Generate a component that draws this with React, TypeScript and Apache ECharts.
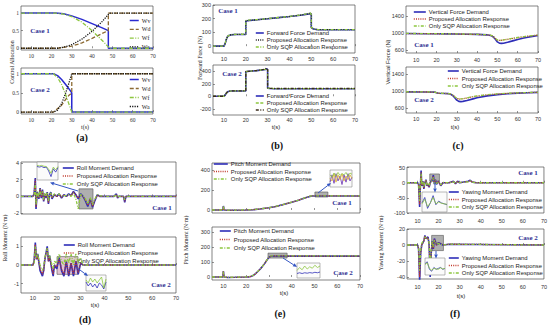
import React, { useEffect, useRef } from "react";
import * as echarts from "echarts";

// ---------------- DATA ----------------
const X_TICKS = [10, 20, 30, 40, 50, 60, 70];

// (a) control allocation weights
const A_LEGEND = ["Wv", "Wd", "Wf", "Wa"];
const A1_T_WV = [5, 22, 26, 30, 35, 40, 45, 48, 48, 70];
const A1_WV = [1, 1, 0.98, 0.92, 0.82, 0.7, 0.58, 0.5, 0, 0];
const A1_T_WD = [5, 23, 30, 35, 40, 45, 48, 48, 70];
const A1_WD = [0, 0, 0.06, 0.15, 0.28, 0.42, 0.5, 1, 1];
const A1_T_WF = [5, 22, 26, 30, 35, 40, 45, 48, 49, 70];
const A1_WF = [1, 1, 0.97, 0.9, 0.74, 0.5, 0.22, 0.04, 0, 0];
const A1_T_WA = [5, 23, 26, 30, 35, 40, 45, 48, 49, 70];
const A1_WA = [0, 0, 0.03, 0.1, 0.26, 0.48, 0.76, 0.96, 1, 1];

const A2_T_WV = [5, 21, 23, 25, 27, 29, 30, 30, 70];
const A2_WV = [1, 1, 0.95, 0.85, 0.72, 0.58, 0.5, 0, 0];
const A2_T_WD = [5, 21, 25, 27, 28.5, 30, 30, 70];
const A2_WD = [0, 0, 0.18, 0.33, 0.43, 0.5, 1, 1];
const A2_T_WF = [5, 21, 23, 25, 27, 29, 30, 70];
const A2_WF = [1, 1, 0.9, 0.72, 0.45, 0.15, 0, 0];
const A2_T_WA = [5, 21, 23, 25, 27, 29, 30, 70];
const A2_WA = [0, 0, 0.05, 0.22, 0.5, 0.82, 1, 1];

// (b) forward force
const B1_T = [5, 10, 10.5, 11, 11.5, 12, 13, 15, 20, 20, 20.5, 25, 30, 35, 40, 45, 49, 49.5, 50, 50, 51, 53, 70];
const B1_DEMAND = [0, 0, 15, 45, 65, 75, 82, 85, 85, 180, 185, 192, 200, 208, 216, 225, 235, 240, 232, 135, 125, 120, 120];
const B1_PROPOSED = [0, 0, 14, 44, 64, 75, 82, 85, 86, 182, 186, 192, 200, 208, 216, 226, 236, 242, 230, 134, 124, 120, 120];
const B1_SQP = [0, 0, 16, 46, 66, 76, 82, 86, 87, 186, 190, 193, 201, 209, 217, 227, 238, 246, 228, 137, 126, 121, 121];
const B2_T = [5, 10, 10.5, 11, 11.5, 12, 13, 15, 20, 20, 20.5, 25, 29, 29.5, 30, 30, 31, 33, 70];
const B2_DEMAND = [0, 0, 15, 45, 65, 76, 83, 85, 85, 390, 395, 410, 428, 440, 430, 130, 124, 120, 120];
const B2_PROPOSED = [0, 0, 14, 44, 64, 75, 83, 86, 86, 392, 396, 411, 430, 445, 428, 132, 126, 121, 121];
const B2_SQP = [0, 0, 16, 46, 66, 77, 84, 86, 87, 396, 398, 412, 432, 452, 425, 135, 128, 124, 124];

// (c) vertical force
const C1_T = [5, 15, 20, 25, 30, 35, 40, 45, 47, 48, 49, 50, 51, 52, 53, 55, 58, 60, 63, 65, 68, 70];
const C1_DEMAND = [985, 982, 980, 978, 975, 970, 965, 955, 935, 905, 850, 790, 760, 755, 760, 780, 820, 845, 880, 900, 925, 940];
const C1_PROPOSED = [985, 982, 980, 978, 975, 970, 965, 955, 940, 915, 870, 830, 825, 828, 835, 850, 875, 890, 910, 922, 938, 948];
const C1_SQP = [988, 984, 982, 980, 977, 972, 967, 957, 942, 917, 872, 832, 826, 830, 837, 852, 878, 893, 913, 925, 940, 950];
const C2_T = [5, 15, 19, 20, 21, 24, 26, 27, 28, 29, 30, 31, 32, 33, 35, 38, 40, 45, 50, 55, 60, 65, 70];
const C2_DEMAND = [980, 978, 975, 960, 948, 943, 938, 925, 895, 840, 785, 755, 750, 755, 775, 815, 840, 885, 915, 935, 950, 960, 968];
const C2_PROPOSED = [980, 978, 975, 960, 948, 943, 938, 928, 905, 865, 825, 810, 812, 818, 835, 865, 880, 910, 930, 945, 955, 963, 970];
const C2_SQP = [983, 980, 977, 962, 950, 945, 940, 930, 908, 868, 828, 812, 814, 820, 838, 868, 883, 913, 933, 947, 957, 965, 972];

// (d) roll moment
const D1_T = [5, 10, 10.5, 11, 11.3, 11.8, 12.5, 13, 13.5, 14, 14.5, 15, 15.5, 16, 16.5, 17, 17.5, 18, 19, 20, 21, 22, 23, 24, 25, 26, 27, 28, 29, 30, 31, 32, 33, 34, 35, 36, 37, 38, 40, 44, 45, 45.5, 46, 48, 48.5, 49, 70];
const D1_DEMAND = [0, 0, 0.3, 2.2, -1.5, 0.5, -0.3, 1.0, -0.2, 0.8, -0.6, 0.3, -0.2, 0.5, -0.9, 0.2, 0.5, -0.3, 0.2, 0, 0.3, -0.2, 0.2, 0, 0.3, 0.1, 0.6, 0.2, -0.3, 0.3, 0, -0.5, -1.2, -0.3, -1.3, -0.5, 0.2, 0, 0, 0, 0.3, -0.2, 0, 0, -0.7, 0, 0];
const D1_PROPOSED = [0, 0, 0.2, 2.0, -1.3, 0.4, -0.2, 0.9, -0.1, 0.7, -0.5, 0.3, -0.1, 0.4, -0.8, 0.2, 0.4, -0.2, 0.2, 0, 0.2, -0.1, 0.2, 0, 0.2, 0.1, 0.5, 0.2, -0.2, 0.2, 0, -0.4, -1.1, -0.3, -1.2, -0.4, 0.1, 0, 0, 0, 0.2, -0.1, 0, 0, -0.6, 0, 0];
const D1_SQP = [0, 0, 0.1, 1.6, -1.0, 0.6, -0.1, 0.8, 0.1, 0.6, -0.4, 0.4, 0.0, 0.5, -0.6, 0.3, 0.4, -0.1, 0.3, 0.1, 0.3, 0.0, 0.1, 0.1, 0.2, 0.0, 0.4, -0.3, -1.5, 0.2, 0.1, -0.3, -0.9, -0.1, -1.0, -0.3, 0.2, 0.1, 0, 0, 0.2, -0.1, 0, 0, -0.4, 0, 0];
const D2_T = [5, 10, 10.5, 11, 11.5, 12, 13, 14, 14.5, 15, 16, 16.5, 17, 18, 18.5, 19, 20, 21, 22, 23, 24, 25, 26, 27, 28, 29, 30, 31, 70];
const D2_DEMAND = [0, 0, 0.2, 1.2, 0.3, 0.6, -0.3, -0.6, -0.3, 0.3, 1.0, 0.2, 0.5, -0.3, -0.6, 0, -0.2, 0.4, -0.3, -0.6, 0.2, -0.6, 0.1, -0.6, 0.2, -0.5, 0.1, 0, 0];
const D2_PROPOSED = [0, 0, 0.2, 1.1, 0.3, 0.5, -0.2, -0.5, -0.3, 0.3, 0.9, 0.2, 0.4, -0.2, -0.5, 0, -0.1, 0.3, -0.2, -0.5, 0.2, -0.5, 0.1, -0.5, 0.2, -0.4, 0.1, 0, 0];
const D2_SQP = [0, 0, 0.1, 1.0, 0.4, 0.6, 0.0, -0.3, -0.1, 0.4, 0.9, 0.4, 0.5, 0.0, -0.2, 0.2, 0.1, 0.6, 0.2, 0.0, 0.6, 0.1, 0.6, 0.0, 0.6, 0.1, 0.4, 0, 0];

// (e) pitch moment
const E1_T = [5, 9.8, 10, 10.3, 12, 15, 20, 23, 26, 30, 33, 36, 40, 43, 46, 48, 49, 52, 55, 70];
const E1_DEMAND = [0, 0, 40, 0, -3, -2, 0, 3, 10, 22, 35, 52, 78, 98, 122, 136, 140, 140, 140, 140];
const E1_PROPOSED = [0, 0, 38, 0, -3, -2, 0, 3, 10, 22, 35, 52, 78, 98, 122, 137, 141, 141, 141, 140];
const E1_SQP = [0, 0, 36, 1, -2, -1, 1, 4, 11, 23, 36, 53, 79, 99, 123, 138, 142, 142, 142, 141];
const E2_T = [5, 9.8, 10, 10.3, 12, 15, 20, 21, 22, 23, 24, 25, 26, 27, 28, 29, 30, 31, 35, 70];
const E2_DEMAND = [0, 0, 40, 0, -3, -2, 0, 1, 4, 10, 20, 35, 50, 68, 88, 110, 132, 140, 140, 140];
const E2_PROPOSED = [0, 0, 38, 0, -3, -2, 0, 1, 4, 10, 20, 35, 50, 68, 88, 110, 133, 141, 141, 140];
const E2_SQP = [0, 0, 36, 1, -2, -1, 1, 2, 5, 11, 21, 36, 51, 69, 89, 111, 134, 142, 142, 141];

// (f) yawing moment
const F1_T = [5, 10, 10.5, 11, 11.3, 11.7, 12, 12.5, 13, 13.5, 14, 14.5, 15, 15.5, 16, 17, 17.5, 18, 18.5, 19, 20, 21, 22, 25, 27, 28, 29, 30, 34, 35, 36, 38, 70];
const F1_DEMAND = [0, 0, -5, -80, -20, 40, -10, 5, -20, 0, 10, -10, -5, -15, 0, 10, 25, -5, 10, -5, 5, -10, 0, 0, 5, -3, 5, 0, 5, 8, 2, 0, 0];
const F1_PROPOSED = [0, 0, -4, -72, -18, 36, -9, 4, -18, 0, 9, -9, -4, -13, 0, 9, 22, -4, 9, -4, 4, -9, 0, 0, 4, -2, 4, 0, 4, 7, 2, 0, 0];
const F1_SQP = [0, 0, -3, -60, -15, 30, -6, 3, -14, 1, 7, -7, -3, -10, 1, 8, 18, -3, 7, -3, 4, -7, 1, 0, 3, -1, 3, 1, 3, 6, 2, 0, 0];
const F2_T = [5, 10, 10.5, 11, 11.5, 12, 13, 13.5, 14, 15, 15.5, 16, 16.5, 17, 17.5, 18, 19, 20, 22, 25, 70];
const F2_DEMAND = [0, 0, -5, -45, -10, 0, 5, 12, 8, 10, 0, -40, -10, 5, -5, 8, 0, 3, 0, 1, 0];
const F2_PROPOSED = [0, 0, -4, -40, -9, 0, 5, 11, 8, 9, 0, -36, -9, 4, -4, 7, 0, 3, 0, 1, 0];
const F2_SQP = [0, 0, -3, -32, -6, 2, 6, 10, 9, 8, 2, -28, -6, 5, -2, 6, 1, 2, 0, 1, 0];

// zoom windows (data coords) and inset traces
const ZOOM_D1 = [[29.3, 0.9], [35.2, -1.5]];
const ZOOM_D2 = [[20.1, 0.45], [28.9, -0.5]];
const ZOOM_E1 = [[50.2, 180], [55.9, 130]];
const ZOOM_E2 = [[29.6, 160], [38, 127]];
const ZOOM_F1 = [[15.8, 29], [20.4, 5]];
const ZOOM_F2 = [[16.7, 12], [22.3, -7]];

const INSET_D1_DEMAND = [0.6, 0.55, 0.6, 0.5, 0.55, 0.2, -0.3, 0.4, 0.1, 0.5];
const INSET_D1_SQP = [0.7, 0.65, 0.7, 0.62, 0.6, 0.35, 0.0, 0.55, 0.3, 0.6];
const INSET_D2_DEMAND = [0.1, -0.3, 0.0, -0.4, -0.1, -0.5, 0.0, -0.2, -0.6, 0.1];
const INSET_D2_SQP = [0.3, 0.0, 0.5, 0.1, 0.4, 0.0, 0.3, 0.6, -0.5, 0.4];
const INSET_E1_DEMAND = [0.2, 0.8, 0.1, 0.9, 0.3, 0.7, 0.0, 0.8, 0.2, 0.9, 0.3, 0.6];
const INSET_E1_PROPOSED = [0.5, 0.3, 0.9, 0.2, 0.8, 0.4, 0.9, 0.3, 0.7, 0.4, 0.8, 0.5];
const INSET_E1_SQP = [0.8, 0.6, 0.95, 0.7, 1.0, 0.75, 0.9, 0.8, 1.0, 0.7, 0.95, 0.85];
const INSET_E2_DEMAND = [0.3, 0.35, 0.3, 0.35, 0.32, 0.36, 0.33, 0.38, 0.35, 0.4];
const INSET_E2_SQP = [0.5, 0.7, 0.55, 0.8, 0.6, 0.75, 0.65, 0.85, 0.7, 0.8];
const INSET_F1_DEMAND = [0.5, 0.8, 0.2, 0.5, 0.9, 0.4, 0.6, 0.5, 0.45, 0.4];
const INSET_F1_SQP = [0.45, 0.7, 0.3, 0.5, 0.8, 0.45, 0.55, 0.48, 0.45, 0.42];
const INSET_F2_DEMAND = [0.8, 0.9, 0.5, 0.4, 0.6, 0.5, 0.55, 0.6, 0.5, 0.55];
const INSET_F2_SQP = [0.75, 0.85, 0.55, 0.45, 0.55, 0.52, 0.5, 0.58, 0.52, 0.55];

// ---------------- STYLE ----------------
const BLUE = "#2e2eb8";
const RED = "#c0392b";
const GREEN = "#8dc63f";
const BROWN = "#8c6a32";
const BLACK = "#111111";
const CASE_COLOR = "#2e3192";
const ARROW = "#3456c4";
const SERIF = '"Liberation Serif", "DejaVu Serif", serif';
const SANS = '"Liberation Sans", Arial, sans-serif';
const DOT = [1, 1.2];
const DASH = [3, 1.5];
const DASHDOT = [3, 1.5, 1, 1.5];

type S = { name: string; t: number[]; v: number[]; color: string; dash: any; w: number };
const zip = (t: number[], v: number[]) => t.map((x, i) => [x, v[i]]);
const tri = (t: number[], d: number[], p: number[], q: number[], names: string[], pc = RED, pd: any = DOT, qc = GREEN, qd: any = DASHDOT): S[] => [
  { name: names[0], t, v: d, color: BLUE, dash: "solid", w: 1.6 },
  { name: names[1], t, v: p, color: pc, dash: pd, w: 1.3 },
  { name: names[2], t, v: q, color: qc, dash: qd, w: 1.3 },
];
const N_B = ["Forward Force Demand", "Proposed Allocation Response", "Only SQP Allocation Response"];
const N_C = ["Vertical Force Demand", "Proposed Allocation Response", "Only SQP Allocation Response"];
const N_D = ["Roll Moment Demand", "Proposed Allocation Response", "Only SQP Allocation Response"];
const N_E = ["Pitch Moment Demand", "Proposed Allocation Response", "Only SQP Allocation Response"];
const N_F = ["Yawing Moment Demand", "Proposed Allocation Response", "Only SQP Allocation Response"];

const aSeries = (tv: number[][]): S[] => [
  { name: A_LEGEND[0], t: tv[0], v: tv[1], color: "#2a2ad0", dash: "solid", w: 1.5 },
  { name: A_LEGEND[1], t: tv[2], v: tv[3], color: BROWN, dash: [4, 2], w: 1.3 },
  { name: A_LEGEND[2], t: tv[4], v: tv[5], color: GREEN, dash: [4, 1.5, 1, 1.5], w: 1.3 },
  { name: A_LEGEND[3], t: tv[6], v: tv[7], color: BLACK, dash: [1.2, 1.2], w: 1.3 },
];

const PANELS: any[] = [
  { box: [21, 6, 132, 44], y: [-0.05, 1.2], yt: [0, 0.5, 1], xl: true, font: SERIF, xm: 3,
    series: aSeries([A1_T_WV, A1_WV, A1_T_WD, A1_WD, A1_T_WF, A1_WF, A1_T_WA, A1_WA]),
    legend: [129, 17, 9, 1.8, SERIF], caseLabel: ["Case 1", 40, 31] },
  { box: [21, 68, 132, 46], y: [-0.05, 1.15], yt: [0, 0.5, 1], xl: true, font: SERIF, xm: 3,
    series: aSeries([A2_T_WV, A2_WV, A2_T_WD, A2_WD, A2_T_WF, A2_WF, A2_T_WA, A2_WA]),
    legend: [129, 76, 9, 2, SERIF], caseLabel: ["Case 2", 40, 90] },
  { box: [213, 5, 142, 48], y: [-50, 300], yt: [0, 100, 200, 300], xl: true, font: SANS, xm: 3,
    series: tri(B1_T, B1_DEMAND, B1_PROPOSED, B1_SQP, N_B, "#222222", DOT),
    legend: [255, 29.5, 8, 0, SANS], caseLabel: ["Case 1", 228, 11] },
  { box: [213, 65, 142, 50], y: [-300, 500], yt: [-200, 0, 200, 400], xl: true, font: SANS, xm: 2,
    series: tri(B2_T, B2_DEMAND, B2_PROPOSED, B2_SQP, N_B, GREEN, DASH, "#3a2a1a", DASHDOT),
    legend: [255, 92.5, 8, 0, SANS], caseLabel: ["Case 2", 232, 74] },
  { box: [406, 6, 132, 47], y: [530, 1630], yt: [600, 1000, 1400], xl: true, font: SANS, xm: 4,
    series: tri(C1_T, C1_DEMAND, C1_PROPOSED, C1_SQP, N_C),
    legend: [413, 8.5, 12, 0, SANS], caseLabel: ["Case 1", 424, 45] },
  { box: [406, 67, 132, 46], y: [480, 1570], yt: [600, 1000, 1400], xl: true, font: SANS, xm: 3,
    series: tri(C2_T, C2_DEMAND, C2_PROPOSED, C2_SQP, N_C),
    legend: [447, 67.5, 11, 0.5, SANS], caseLabel: ["Case 2", 424, 100] },
  { box: [21, 162, 155, 52], y: [-2.1, 4.1], yt: [-2, 0, 2, 4], xl: false, font: SANS, xm: 3,
    series: tri(D1_T, D1_DEMAND, D1_PROPOSED, D1_SQP, N_D), zoom: ZOOM_D1, zoomColor: "rgba(110,110,110,0.55)",
    legend: [62, 164.5, 11, 1, SANS], caseLabel: ["Case 1", 162, 208] },
  { box: [21, 237, 155, 56], y: [-1.5, 1.5], yt: [-1, 0, 1], xl: true, font: SANS, xm: 2,
    series: tri(D2_T, D2_DEMAND, D2_PROPOSED, D2_SQP, N_D), zoom: ZOOM_D2, zoomColor: "rgba(200,150,175,0.55)",
    legend: [63, 241.5, 11, 1, SANS], caseLabel: ["Case 2", 161, 285] },
  { box: [212, 163, 148, 50], y: [-30, 470], yt: [0, 200, 400], xl: false, font: SANS, xm: 3,
    series: tri(E1_T, E1_DEMAND, E1_PROPOSED, E1_SQP, N_E), zoom: ZOOM_E1, zoomColor: "rgba(110,110,110,0.55)",
    legend: [213, 160.5, 14, 0.5, SANS], caseLabel: ["Case 1", 342, 203] },
  { box: [212, 227, 148, 53], y: [-20, 335], yt: [0, 100, 200, 300], xl: true, font: SANS, xm: 3,
    series: tri(E2_T, E2_DEMAND, E2_PROPOSED, E2_SQP, N_E), zoom: ZOOM_E2, zoomColor: "rgba(110,110,110,0.55)",
    legend: [219, 227.5, 11, 1.5, SANS], caseLabel: ["Case 2", 343, 273] },
  { box: [407, 167, 139, 46], y: [-100, 52], yt: [-100, -50, 0, 50], xl: true, font: SANS, xm: 5,
    series: tri(F1_T, F1_DEMAND, F1_PROPOSED, F1_SQP, N_F), zoom: ZOOM_F1, zoomColor: "rgba(110,110,110,0.55)",
    legend: [448, 188.5, 10, 0.5, SANS], caseLabel: ["Case 1", 528, 173] },
  { box: [407, 229, 139, 50], y: [-42.5, 20], yt: [-40, -20, 0, 20], xl: true, font: SANS, xm: 5,
    series: tri(F2_T, F2_DEMAND, F2_PROPOSED, F2_SQP, N_F), zoom: ZOOM_F2, zoomColor: "rgba(110,110,110,0.55)",
    legend: [448, 254.5, 10, 0.5, SANS], caseLabel: ["Case 2", 528, 238] },
];

const INSETS: any[] = [
  { box: [37, 162, 21, 18], y: [-0.6, 1.0], lines: [[INSET_D1_DEMAND, BLUE], [INSET_D1_SQP, GREEN]] },
  { box: [86, 275, 20, 16], y: [-0.8, 0.8], lines: [[INSET_D2_DEMAND, BLUE], [INSET_D2_SQP, GREEN]] },
  { box: [330, 170, 22, 17], y: [-0.2, 1.2], lines: [[INSET_E1_DEMAND, "#6a2fb0"], [INSET_E1_PROPOSED, "#d8b030"], [INSET_E1_SQP, GREEN]] },
  { box: [297, 263, 23, 15], y: [0, 1], lines: [[INSET_E2_DEMAND, BLUE], [INSET_E2_SQP, GREEN]] },
  { box: [422, 192, 25, 20], y: [0, 1.1], lines: [[INSET_F1_DEMAND, BLUE], [INSET_F1_SQP, GREEN]] },
  { box: [425, 258, 20, 17], y: [0.2, 1.1], lines: [[INSET_F2_DEMAND, BLUE], [INSET_F2_SQP, GREEN]] },
];

const ARROWS = [
  [78, 191, 50, 182.5],
  [76, 267, 88, 276],
  [318, 193, 331, 183],
  [283, 258, 297, 267],
  [435, 182, 435, 192.5],
  [436, 251, 436, 258.5],
];

const Y_NAMES: any[] = [
  ["Control Allocation", 12, 62, SERIF],
  ["Forward Force (N)", 200, 58, SERIF],
  ["Vertical Force (N)", 388, 62, SANS],
  ["Roll Moment (N·m)", 5, 238, SERIF],
  ["Pitch Moment (N·m)", 186, 240, SERIF],
  ["Yawing Moment (N·m)", 381, 243, SERIF],
];
const T_LABELS: any[] = [
  [85, 127, SERIF], [276, 127, SANS], [455, 127, SANS],
  [95, 305, SANS], [284, 293, SANS], [461, 296, SANS],
];
const PANEL_LABELS: any[] = [
  ["(a)", 82, 137], ["(b)", 277, 145], ["(c)", 458, 145],
  ["(d)", 85, 319], ["(e)", 280, 313], ["(f)", 455, 313],
];

function text(t: string, x: number, y: number, size: number, family: string, color = "#222", weight = "normal", rotation = 0) {
  return {
    type: "text", x, y, rotation, z: 120,
    style: { text: t, fill: color, fontSize: size, fontFamily: family, fontWeight: weight,
      align: "center", verticalAlign: "middle", textAlign: "center", textVerticalAlign: "middle" },
  };
}

function arrow(x1: number, y1: number, x2: number, y2: number) {
  const dx = x2 - x1, dy = y2 - y1, L = Math.hypot(dx, dy), ux = dx / L, uy = dy / L;
  const hl = 4, hw = 1.8;
  const bx = x2 - ux * hl, by = y2 - uy * hl;
  return [
    { type: "line", z: 110, shape: { x1, y1, x2: bx, y2: by }, style: { stroke: ARROW, lineWidth: 1 } },
    { type: "polygon", z: 110, shape: { points: [[x2, y2], [bx - uy * hw, by + ux * hw], [bx + uy * hw, by - ux * hw]] }, style: { fill: ARROW } },
  ];
}

const plain = (v: number) => String(v);

function buildOption() {
  const grid: any[] = [], xAxis: any[] = [], yAxis: any[] = [], series: any[] = [], legend: any[] = [];
  const graphic: any[] = [];

  PANELS.forEach((p, i) => {
    const [left, top, width, height] = p.box;
    grid.push({ left, top, width, height, show: true, borderColor: "#4d4d4d", borderWidth: 0.7, backgroundColor: "#ffffff" });
    xAxis.push({
      gridIndex: i, type: "value", min: 5, max: 70,
      axisLine: { show: false }, splitLine: { show: false },
      axisTick: { show: true, inside: true, length: 2, customValues: X_TICKS, lineStyle: { color: "#4d4d4d", width: 0.6 } },
      axisLabel: { show: p.xl, customValues: X_TICKS, formatter: plain, fontSize: 5.5, fontFamily: p.font, color: "#333", margin: p.xm },
    });
    yAxis.push({
      gridIndex: i, type: "value", min: p.y[0], max: p.y[1],
      axisLine: { show: false }, splitLine: { show: false },
      axisTick: { show: true, inside: true, length: 2, customValues: p.yt, lineStyle: { color: "#4d4d4d", width: 0.6 } },
      axisLabel: { customValues: p.yt, formatter: plain, fontSize: 5.5, fontFamily: p.font, color: "#333", margin: 2 },
    });
    p.series.forEach((s: S, k: number) => {
      const item: any = {
        type: "line", name: s.name, xAxisIndex: i, yAxisIndex: i, data: zip(s.t, s.v),
        symbol: "none", showSymbol: false, silent: true, z: 2 + k,
        lineStyle: { color: s.color, width: s.w, type: s.dash }, itemStyle: { color: s.color },
      };
      if (p.zoom && k === p.series.length - 1) {
        item.markArea = {
          silent: true,
          itemStyle: { color: p.zoomColor, borderColor: "#555", borderWidth: 0.6 },
          data: [[{ coord: p.zoom[0] }, { coord: p.zoom[1] }]],
        };
      }
      series.push(item);
    });
    const [ll, lt, iw, gap, lf] = p.legend;
    legend.push({
      left: ll, top: lt, orient: "vertical", padding: 0, itemGap: gap, itemWidth: iw, itemHeight: 6,
      selectedMode: false,
      textStyle: { fontSize: lf === SERIF ? 6 : 5.9, fontFamily: lf, color: "#222", lineHeight: 7, padding: [0, 0, 0, -2] },
      data: p.series.map((s: S) => ({ name: s.name, lineStyle: { color: s.color, width: s.w, type: s.dash }, itemStyle: { opacity: 0 } })),
    });
    const [ct, cx, cy] = p.caseLabel;
    graphic.push(text(ct, cx, cy, 7, SERIF, CASE_COLOR, "bold"));
  });

  INSETS.forEach((ins, j) => {
    const gi = PANELS.length + j;
    const [left, top, width, height] = ins.box;
    grid.push({ left, top, width, height, show: true, borderColor: "#8a8a8a", borderWidth: 0.6, backgroundColor: "#fbfbfb", z: 5 });
    const n = ins.lines[0][0].length;
    xAxis.push({ gridIndex: gi, type: "value", min: 0, max: n - 1, show: false });
    yAxis.push({ gridIndex: gi, type: "value", min: ins.y[0], max: ins.y[1], show: false });
    ins.lines.forEach((ln: any, k: number) => {
      series.push({
        type: "line", xAxisIndex: gi, yAxisIndex: gi, z: 6 + k, silent: true,
        data: ln[0].map((v: number, idx: number) => [idx, v]),
        symbol: "none", lineStyle: { color: ln[1], width: 0.8 },
      });
    });
  });

  ARROWS.forEach((a) => graphic.push(...arrow(a[0], a[1], a[2], a[3])));
  Y_NAMES.forEach((n) => graphic.push(text(n[0], n[1], n[2], 5.8, n[3], "#222", "normal", Math.PI / 2)));
  T_LABELS.forEach((t) => graphic.push(text("t(s)", t[0], t[1], 6, t[2], "#222")));
  PANEL_LABELS.forEach((t) => graphic.push(text(t[0], t[1], t[2], 10, SERIF, "#111", "bold")));

  return { animation: false, backgroundColor: "#ffffff", grid, xAxis, yAxis, series, legend, graphic };
}

export default function App() {
  const ref = useRef<HTMLDivElement>(null);
  useEffect(() => {
    document.body.style.margin = "0";
    const chart = echarts.init(ref.current!, undefined, { renderer: "svg" });
    chart.setOption(buildOption() as any);
    return () => chart.dispose();
  }, []);
  return <div ref={ref} style={{ width: 550, height: 325, background: "#fff" }} />;
}
